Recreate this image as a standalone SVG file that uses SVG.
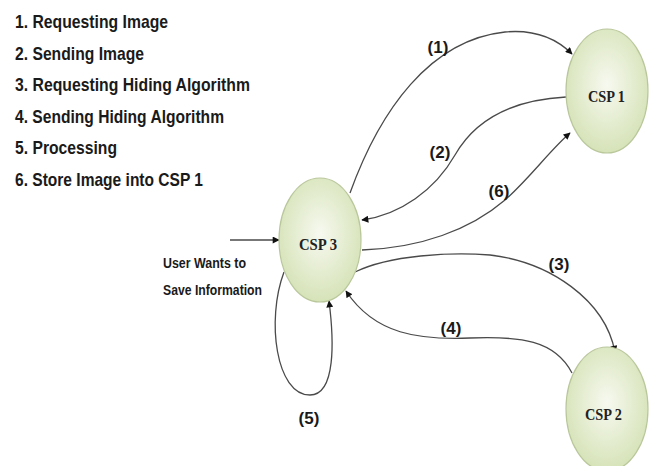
<svg xmlns="http://www.w3.org/2000/svg" width="650" height="466" viewBox="0 0 650 466">
<style>
.leg{font-family:"Liberation Sans",Arial,sans-serif;font-weight:bold;font-size:19px;fill:#1a1a1a}
.lbl{font-family:"Liberation Sans",Arial,sans-serif;font-weight:bold;font-size:17px;fill:#1a1a1a;text-anchor:middle}
.node{fill:url(#g);stroke:#b9c79b;stroke-width:1.2}
.nt{font-family:"Liberation Serif","Times New Roman",serif;font-weight:bold;font-size:17px;fill:#222}
.c{fill:none;stroke:#4a4a4a;stroke-width:1.3}
.sm{font-family:"Liberation Sans",Arial,sans-serif;font-weight:bold;font-size:14px;fill:#1a1a1a}
</style>
<defs>
<radialGradient id="g" cx="50%" cy="45%" r="55%">
<stop offset="0" stop-color="#f7f9f0"/>
<stop offset="1" stop-color="#d6e3b8"/>
</radialGradient>
<marker id="a" viewBox="0 0 10 10" refX="9" refY="5" markerWidth="8" markerHeight="7" orient="auto" markerUnits="userSpaceOnUse">
<path d="M0,0 L10,5 L0,10 z" fill="#111"/>
</marker>
</defs>
<rect width="650" height="466" fill="#fff"/>
<g id="legend">
<text class="leg" x="15" y="28" textLength="153" lengthAdjust="spacingAndGlyphs">1. Requesting Image</text>
<text class="leg" x="15" y="60" textLength="129" lengthAdjust="spacingAndGlyphs">2. Sending Image</text>
<text class="leg" x="15" y="91" textLength="235" lengthAdjust="spacingAndGlyphs">3. Requesting  Hiding Algorithm</text>
<text class="leg" x="15" y="123" textLength="209" lengthAdjust="spacingAndGlyphs">4. Sending Hiding Algorithm</text>
<text class="leg" x="15" y="154" textLength="102" lengthAdjust="spacingAndGlyphs">5. Processing</text>
<text class="leg" x="15" y="186" textLength="188" lengthAdjust="spacingAndGlyphs">6. Store Image into CSP 1</text>
</g>
<g id="connectors">
<line class="c" x1="230" y1="240" x2="279" y2="240" marker-end="url(#a)"/>
<path class="c" d="M350,193 C380,110 430,40 505,32 C538,29 558,40 572,54" marker-end="url(#a)"/>
<path class="c" d="M566,97 C510,100 475,120 455,155 C435,190 400,215 362,220" marker-end="url(#a)"/>
<path class="c" d="M362,250 C420,248 470,230 505,200 C530,178 550,150 570,133" marker-end="url(#a)"/>
<path class="c" d="M355,272 C390,255 450,252 490,255 C550,262 605,300 615,352" marker-end="url(#a)"/>
<path class="c" d="M572,373 C555,340 520,336 470,338 C420,340 375,335 346,291" marker-end="url(#a)"/>
<path class="c" d="M284,272 C266,320 276,395 310,395 C336,395 334,340 329,301" marker-end="url(#a)"/>
</g>
<g id="edge-labels">
<text class="lbl" x="438" y="53">(1)</text>
<text class="lbl" x="440" y="158">(2)</text>
<text class="lbl" x="499" y="197">(6)</text>
<text class="lbl" x="559" y="270">(3)</text>
<text class="lbl" x="451" y="334">(4)</text>
<text class="lbl" x="309" y="424">(5)</text>
</g>
<g id="input-label">
<text class="sm" x="163" y="268" textLength="83" lengthAdjust="spacingAndGlyphs">User Wants to</text>
<text class="sm" x="163" y="295" textLength="99" lengthAdjust="spacingAndGlyphs">Save Information</text>
</g>
<g id="csp1">
<ellipse class="node" cx="607" cy="91" rx="41" ry="62"/>
<text class="nt" x="588" y="102" textLength="37" lengthAdjust="spacingAndGlyphs">CSP 1</text>
</g>
<g id="csp3">
<ellipse class="node" cx="320" cy="240" rx="41" ry="62"/>
<text class="nt" x="299" y="250" textLength="38" lengthAdjust="spacingAndGlyphs">CSP 3</text>
</g>
<g id="csp2">
<ellipse class="node" cx="607" cy="409" rx="41" ry="62"/>
<text class="nt" x="585" y="420" textLength="37" lengthAdjust="spacingAndGlyphs">CSP 2</text>
</g>
</svg>
